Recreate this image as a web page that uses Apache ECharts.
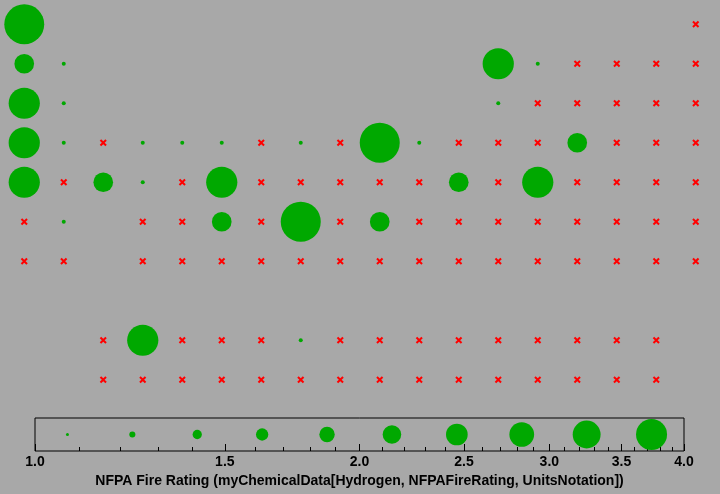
<!DOCTYPE html>
<html>
<head>
<meta charset="utf-8">
<script src="https://cdn.jsdelivr.net/npm/echarts@6/dist/echarts.min.js"></script>
<style>
html,body{margin:0;padding:0;background:#a8a8a8;}
#chart{width:720px;height:494px;}
</style>
</head>
<body>
<div id="chart"></div>
<script>
// Bubble values per row (18 columns); "x" = missing value marker, null = no entry
const X = "x";
const row0 = [3.99, null, null, null, null, null, null, null, null, null, null, null, null, null, null, null, null, X];
const row1 = [2, 1, null, null, null, null, null, null, null, null, null, null, 3, 1, X, X, X, X];
const row2 = [3, 1, null, null, null, null, null, null, null, null, null, null, 1, X, X, X, X, X];
const row3 = [3, 1, X, 1, 1, 1, X, 1, X, 4, 1, X, X, X, 2, X, X, X];
const row4 = [3, X, 2, 1, X, 3, X, X, X, X, X, 2, X, 3, X, X, X, X];
const row5 = [X, 1, null, X, X, 2, X, 4, X, 2, X, X, X, X, X, X, X, X];
const row6 = [X, X, null, X, X, X, X, X, X, X, X, X, X, X, X, X, X, X];
const row7 = [null, null, null, null, null, null, null, null, null, null, null, null, null, null, null, null, null, null];
const row8 = [null, null, X, 3, X, X, X, 1, X, X, X, X, X, X, X, X, X, null];
const row9 = [null, null, X, X, X, X, X, X, X, X, X, X, X, X, X, X, X, null];
const rows = [row0, row1, row2, row3, row4, row5, row6, row7, row8, row9];

// Legend (bubble size scale) values and axis ticks
const legendValues = [1.0, 1.33, 1.67, 2.0, 2.33, 2.67, 3.0, 3.33, 3.67, 4.0];
const majorTicks = [1.0, 1.5, 2.0, 2.5, 3.0, 3.5, 4.0];
const minorTicks = [1.1, 1.2, 1.3, 1.4, 1.6, 1.7, 1.8, 1.9, 2.1, 2.2, 2.3, 2.4, 2.6, 2.7, 2.8, 2.9,
                    3.1, 3.2, 3.3, 3.4, 3.6, 3.7, 3.8, 3.9];
const axisTitle = "NFPA Fire Rating (myChemicalData[Hydrogen, NFPAFireRating, UnitsNotation])";

const GREEN = "#00a800";
const RED = "#ff0000";
const FONT = "Liberation Sans";

const bubbles = [], missing = [];
rows.forEach((row, r) => row.forEach((v, c) => {
  if (v === X) missing.push([c, r]);
  else if (v !== null) bubbles.push([c, r, v]);
}));

function bubbleSize(v) {
  return 4 + 36 * Math.pow(Math.log(v) / Math.log(4), 1.2);
}
const xPath = "path://M0,2L2,0L5,3L8,0L10,2L7,5L10,8L8,10L5,7L2,10L0,8L3,5Z";

const chart = echarts.init(document.getElementById("chart"), null, {renderer: "canvas"});
chart.setOption({
  backgroundColor: "#a8a8a8",
  animation: false,
  grid: [
    {left: 4.5, right: 4.5, top: 4.5, bottom: 94.5, show: false},
    {left: 35, right: 36, top: 418, bottom: 43, show: true, borderColor: "#000", borderWidth: 1, backgroundColor: "transparent"}
  ],
  xAxis: [
    {gridIndex: 0, type: "value", min: -0.5, max: 17.5, show: false},
    {gridIndex: 1, type: "value", min: 0, max: Math.log10(4), position: "bottom",
     axisLine: {show: false}, splitLine: {show: false},
     axisTick: {show: true, inside: true, length: 7, lineStyle: {color: "#000", width: 1},
                customValues: majorTicks.map(Math.log10)},
     axisLabel: {show: true, margin: 4, color: "#000", fontFamily: FONT, fontWeight: "bold", fontSize: 14,
                 customValues: majorTicks.map(Math.log10),
                 formatter: v => Math.pow(10, v).toFixed(1)},
     name: axisTitle, nameLocation: "middle", nameGap: 23,
     nameTextStyle: {color: "#000", fontFamily: FONT, fontWeight: "bold", fontSize: 14}},
    {gridIndex: 1, type: "value", min: 0, max: Math.log10(4), position: "bottom",
     axisLine: {show: false}, splitLine: {show: false}, axisLabel: {show: false},
     axisTick: {show: true, inside: true, length: 4, lineStyle: {color: "#000", width: 1},
                customValues: minorTicks.map(Math.log10)}},
    {gridIndex: 1, type: "category", data: legendValues.map(String), boundaryGap: true, show: false}
  ],
  yAxis: [
    {gridIndex: 0, type: "value", min: -0.5, max: 9.5, inverse: true, show: false},
    {gridIndex: 1, type: "value", min: 0, max: 1, show: false}
  ],
  series: [
    {type: "scatter", xAxisIndex: 0, yAxisIndex: 0, data: bubbles,
     symbol: "circle", symbolSize: d => bubbleSize(d[2]),
     itemStyle: {color: GREEN, opacity: 1}, silent: true},
    {type: "scatter", xAxisIndex: 0, yAxisIndex: 0, data: missing,
     symbol: xPath, symbolSize: 7,
     itemStyle: {color: RED, opacity: 1}, silent: true},
    {type: "scatter", xAxisIndex: 3, yAxisIndex: 1,
     data: legendValues.map((v, i) => [i, 0.5, v]),
     symbol: "circle", symbolSize: d => 3 + (d[2] - 1) / 3 * 28,
     itemStyle: {color: GREEN, opacity: 1}, silent: true}
  ]
});
</script>
</body>
</html>
